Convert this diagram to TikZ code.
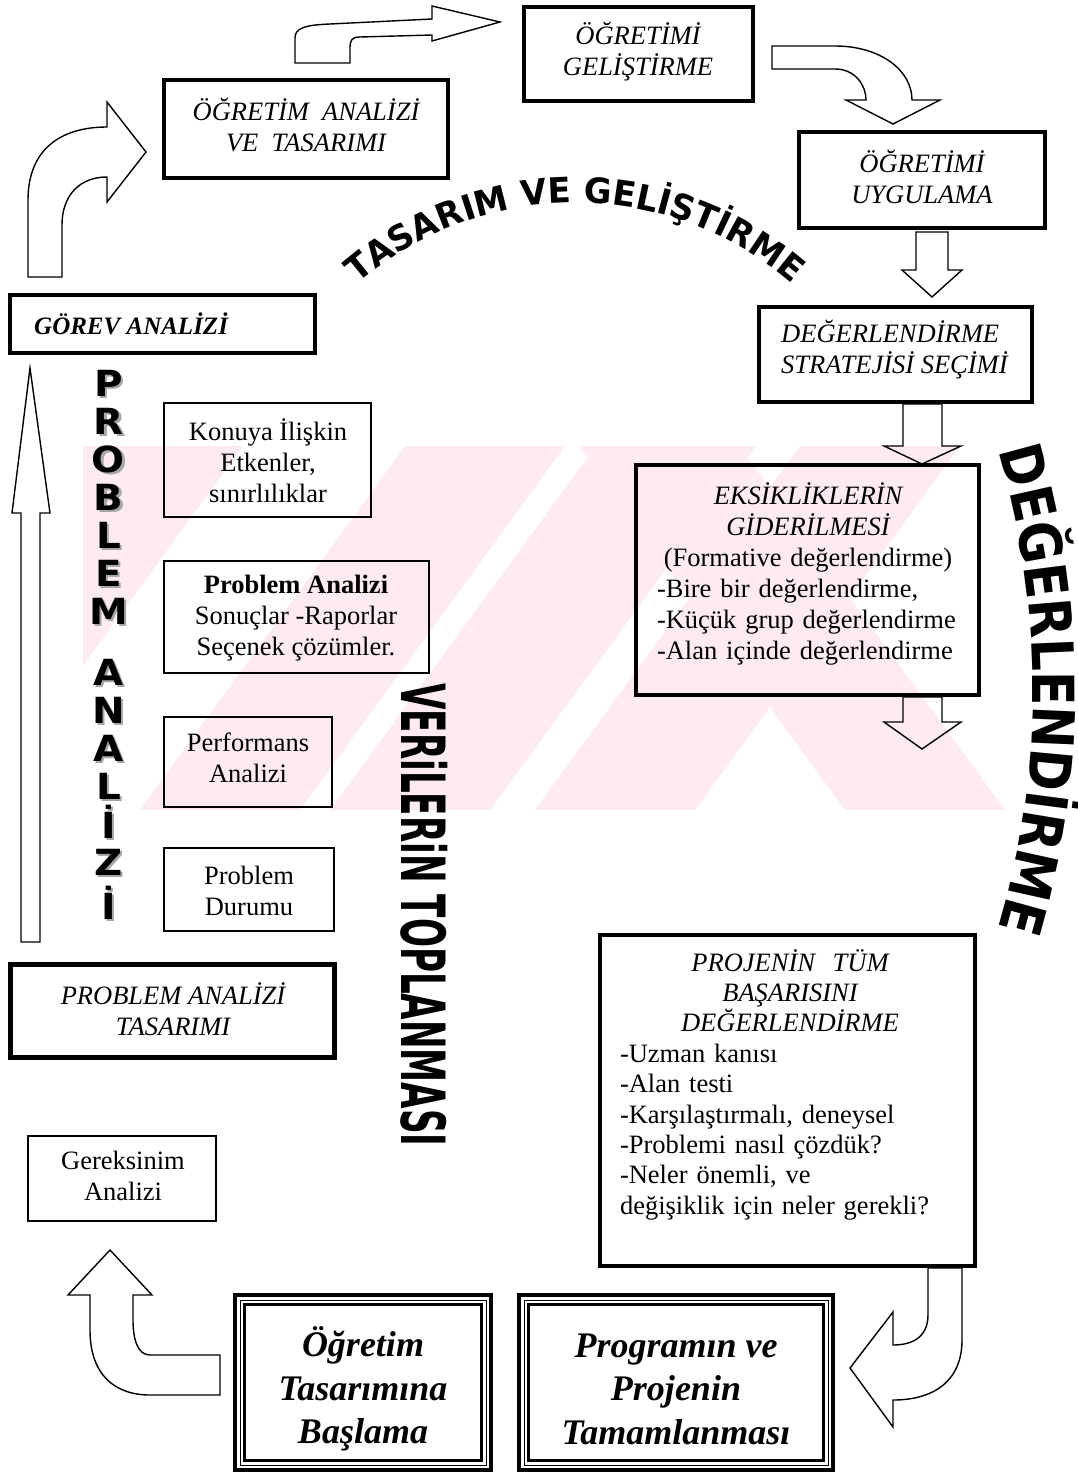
\documentclass[tikz,border=0pt]{standalone}
\usepackage{fontspec}
\setmainfont{Liberation Serif}
\newfontfamily\heavyP[FakeStretch=1.08]{DejaVu Sans}
\newfontfamily\heavyT[FakeStretch=0.97]{DejaVu Sans}
\newfontfamily\heavyD[FakeStretch=0.87]{DejaVu Sans}
\newfontfamily\heavyV[FakeStretch=0.56]{DejaVu Sans}
\newcommand\fT{\heavyT\bfseries\fontsize{35}{35}\selectfont}
\newcommand\fD{\heavyD\bfseries\fontsize{58}{58}\selectfont}
\newcommand\fP{\heavyP\bfseries\fontsize{36}{36}\selectfont}
\newcommand\bodyfont{\fontsize{26.5}{31}\selectfont}
\definecolor{wm}{RGB}{253,235,239}
\begin{document}
\begin{tikzpicture}[x=1pt,y=1pt,
  thickbox/.style={draw, line width=4.5pt, inner sep=0pt},
  thinbox/.style={draw, line width=1.3pt, inner sep=0pt},
  blockarrow/.style={draw, line width=1.4pt, line join=miter},
  txt/.style={font=\bodyfont, align=center, inner sep=0pt},
  ittxt/.style={txt, font=\bodyfont\itshape},
  bigtxt/.style={txt, font=\fontsize{36}{43.5}\selectfont\bfseries\itshape},
  letter/.style={font=\fP, inner sep=0pt}]
\fill[white] (0,0) rectangle (1077,-1475);
\useasboundingbox (0,0) rectangle (1077,-1475);

% watermark
\begin{scope}
\clip (83,-446) rectangle (1010,-810);
\fill[wm] (-182,-810) -- (-22,-810) -- (243,-446) -- (83,-446) -- cycle;
\fill[wm] (140,-810) -- (300,-810) -- (565,-446) -- (405,-446) -- cycle;
\fill[wm] (330,-810) -- (490,-810) -- (756,-446) -- (596,-446) -- cycle;
\fill[wm] (535,-810) -- (695,-810) -- (960,-446) -- (800,-446) -- cycle;
\fill[wm] (579,-446) -- (739,-446) -- (1005,-810) -- (845,-810) -- cycle;
\end{scope}

% boxes
\node[thickbox, minimum width=284, minimum height=98] (oat) at (306,-129) {};
\node[thickbox, minimum width=229, minimum height=94] (og) at (638.5,-54) {};
\node[thickbox, minimum width=246, minimum height=96] (ou) at (922,-180) {};
\node[thickbox, minimum width=273, minimum height=95] (ds) at (895.5,-354.5) {};
\node[thickbox, minimum width=343, minimum height=230] (eks) at (807.5,-580) {};
\node[thickbox, minimum width=375, minimum height=331] (proj) at (787.5,-1100.5) {};
\node[thickbox, line width=4pt, minimum width=314, minimum height=175] (prog) at (676,-1382.5) {};
\node[thickbox, line width=4pt, minimum width=256, minimum height=175] (ots) at (363,-1382.5) {};
\node[thinbox, minimum width=188, minimum height=85] (ger) at (122,-1178.5) {};
\node[thickbox, line width=5.5pt, minimum width=324, minimum height=93] (pat) at (172.5,-1011) {};
\node[thinbox, minimum width=170, minimum height=83] (pd) at (249,-889.5) {};
\node[thinbox, minimum width=168, minimum height=90] (perf) at (248,-762) {};
\node[thinbox, minimum width=265, minimum height=112] (pa) at (296.5,-617) {};
\node[thinbox, minimum width=207, minimum height=114] (kon) at (267.5,-460) {};
\node[thickbox, minimum width=305, minimum height=58] (gor) at (162.5,-324) {};

\foreach \b in {ots,prog}{
  \draw[line width=1pt] ([shift={(7,-7)}]\b.north west) rectangle ([shift={(-7,7)}]\b.south east);
  \draw[line width=2.5pt] ([shift={(11.5,-11.5)}]\b.north west) rectangle ([shift={(-11.5,11.5)}]\b.south east);
}

% texts
\node[ittxt] (oat-t) at (306,-125) {ÖĞRETİM~~ANALİZİ\\VE~~TASARIMI};
\node[ittxt] (og-t) at (638,-52) {ÖĞRETİMİ\\GELİŞTİRME};
\node[ittxt] (ou-t) at (922,-177) {ÖĞRETİMİ\\UYGULAMA};
\node[ittxt, align=left, anchor=west] (ds-t) at (781,-350) {DEĞERLENDİRME\\STRATEJİSİ SEÇİMİ};
\node[txt, font=\fontsize{25}{30}\selectfont\bfseries\itshape, anchor=west] (gor-t) at (34,-324) {GÖREV ANALİZİ};
\node[txt] (kon-t) at (268,-461) {Konuya İlişkin\\Etkenler,\\sınırlılıklar};
\node[txt] (pa-t) at (296,-618) {\textbf{Problem Analizi}\\Sonuçlar -Raporlar\\Seçenek çözümler.};
\node[txt] (perf-t) at (248,-758) {Performans\\Analizi};
\node[txt] (pd-t) at (249,-891) {Problem\\Durumu};
\node[ittxt] (pat-t) at (173,-1009) {PROBLEM ANALİZİ\\TASARIMI};
\node[txt] (ger-t) at (123,-1176) {Gereksinim\\Analizi};
\node[bigtxt] (ots-t) at (363,-1389) {Öğretim\\Tasarımına\\Başlama};
\node[bigtxt] (prog-t) at (676,-1389) {Programın ve\\Projenin\\Tamamlanması};
\node[inner sep=0pt, font=\bodyfont, text width=302pt] (eks-t) at (808,-574)
  {\centering\itshape EKSİKLİKLERİN\\GİDERİLMESİ\\\upshape (Formative değerlendirme)\par
   \raggedright -Bire bir değerlendirme,\\-Küçük grup değerlendirme\\-Alan içinde değerlendirme\par};
\node[inner sep=0pt, font=\fontsize{26.5}{30.4}\selectfont, text width=340pt] (proj-t) at (790,-1084.5)
  {\centering\itshape PROJENİN~~TÜM\\BAŞARISINI\\DEĞERLENDİRME\par
   \raggedright\upshape -Uzman kanısı\\-Alan testi\\-Karşılaştırmalı, deneysel\\-Problemi nasıl çözdük?\\-Neler önemli, ve\\değişiklik için neler gerekli?\par};

% block arrows
\draw[blockarrow] (21,-942) -- (21,-513) -- (12,-513) -- (30,-368) -- (50,-513) -- (40,-513) -- (40,-942) -- cycle;
\draw[blockarrow] (28,-277) -- (28,-200) .. controls (28,-150) and (60,-127) .. (107,-127) -- (107,-102) -- (146,-152) -- (107,-202) -- (107,-177) .. controls (80,-177) and (62,-195) .. (62,-225) -- (62,-277) -- cycle;
\draw[blockarrow] (295,-63) -- (295,-38) .. controls (295,-28) and (305,-25) .. (330,-24) -- (432,-19) -- (432,-6) -- (500,-22) -- (432,-41) -- (432,-35) -- (360,-37) .. controls (352,-37) and (350,-40) .. (350,-48) -- (350,-63) -- cycle;
\draw[blockarrow] (772,-46) -- (835,-46) .. controls (880,-46) and (912,-70) .. (912,-100) -- (940,-100) -- (893,-124) -- (846,-100) -- (866,-100) .. controls (866,-85) and (855,-69) .. (835,-69) -- (772,-69) -- cycle;
\draw[blockarrow] (916,-232) -- (916,-270) -- (902,-270) -- (932,-297) -- (962,-270) -- (948,-270) -- (948,-232) -- cycle;
\draw[blockarrow] (903,-404) -- (903,-446) -- (884,-446) -- (922,-464) -- (961,-446) -- (942,-446) -- (942,-404) -- cycle;
\draw[blockarrow] (903,-697) -- (903,-722) -- (884,-722) -- (922,-749) -- (961,-722) -- (942,-722) -- (942,-697) -- cycle;
\draw[blockarrow] (928,-1268) -- (928,-1315) .. controls (928,-1335) and (915,-1345) .. (893,-1345) -- (893,-1312) -- (850,-1368) -- (893,-1427) -- (893,-1400) .. controls (935,-1400) and (962,-1380) .. (962,-1340) -- (962,-1268) -- cycle;
\draw[blockarrow] (220,-1355) -- (150,-1355) .. controls (138,-1355) and (133,-1340) .. (133,-1320) -- (133,-1295) -- (152,-1295) -- (110,-1250) -- (68,-1295) -- (90,-1295) -- (90,-1330) .. controls (90,-1375) and (115,-1395) .. (150,-1395) -- (220,-1395) -- cycle;

% PROBLEM ANALIZI vertical letters
\foreach \ch/\yy [count=\i] in {P/383, R/421, O/459, B/497, L/535, E/573, M/611, A/672, N/710, A/748, L/786, İ/822, Z/862, İ/903}{
  \node[letter, text=black!35] (pls\i) at (111,-\yy-2) {\ch};
  \node[letter] (pl\i) at (108.5,-\yy) {\ch};
}

% VERILERIN TOPLANMASI
\node[font=\heavyV\bfseries\fontsize{61}{61}\selectfont, rotate=-90, inner sep=0pt] (ver) at (424,-915) {VERiLERiN TOPLANMASI};

% TASARIM VE GELISTIRME, letter by letter on an arc
\coordinate (tc) at (575,-536);
\foreach \ch/\c [count=\i] in {T/341, A/1069, S/1816, A/2563, R/3335, I/3906, M/4590, V/5822, E/6551, G/7651, E/8403, L/9063, İ/9567, Ş/10113, T/10814, İ/11341, R/11912, M/12795, E/13634}{
  \pgfmathsetmacro\ang{90-(\c-6987.5)*0.00584}
  \pgfmathsetmacro\rot{\ang-90}
  \path (tc) ++(\ang:333) node[font=\fT, rotate=\rot, anchor=base, inner sep=0pt] (tg\i) {\ch};
}

% DEGERLENDIRME, letter by letter on an arc
\coordinate (dc) at (197,-690);
\foreach \ch/\c [count=\i] in {D/415, E/1171.5, Ğ/1923.5, E/2675.5, R/3402, L/4105.5, E/4765.5, N/5525.5, D/6359, İ/6960, R/7531, M/8413.5, E/9252.5}{
  \pgfmathsetmacro\ang{(4797-\c)*0.003458}
  \pgfmathsetmacro\rot{\ang-90}
  \path (dc) ++(\ang:836) node[font=\fD, rotate=\rot, anchor=base, inner sep=0pt] (dg\i) {\ch};
}
\end{tikzpicture}
\end{document}
